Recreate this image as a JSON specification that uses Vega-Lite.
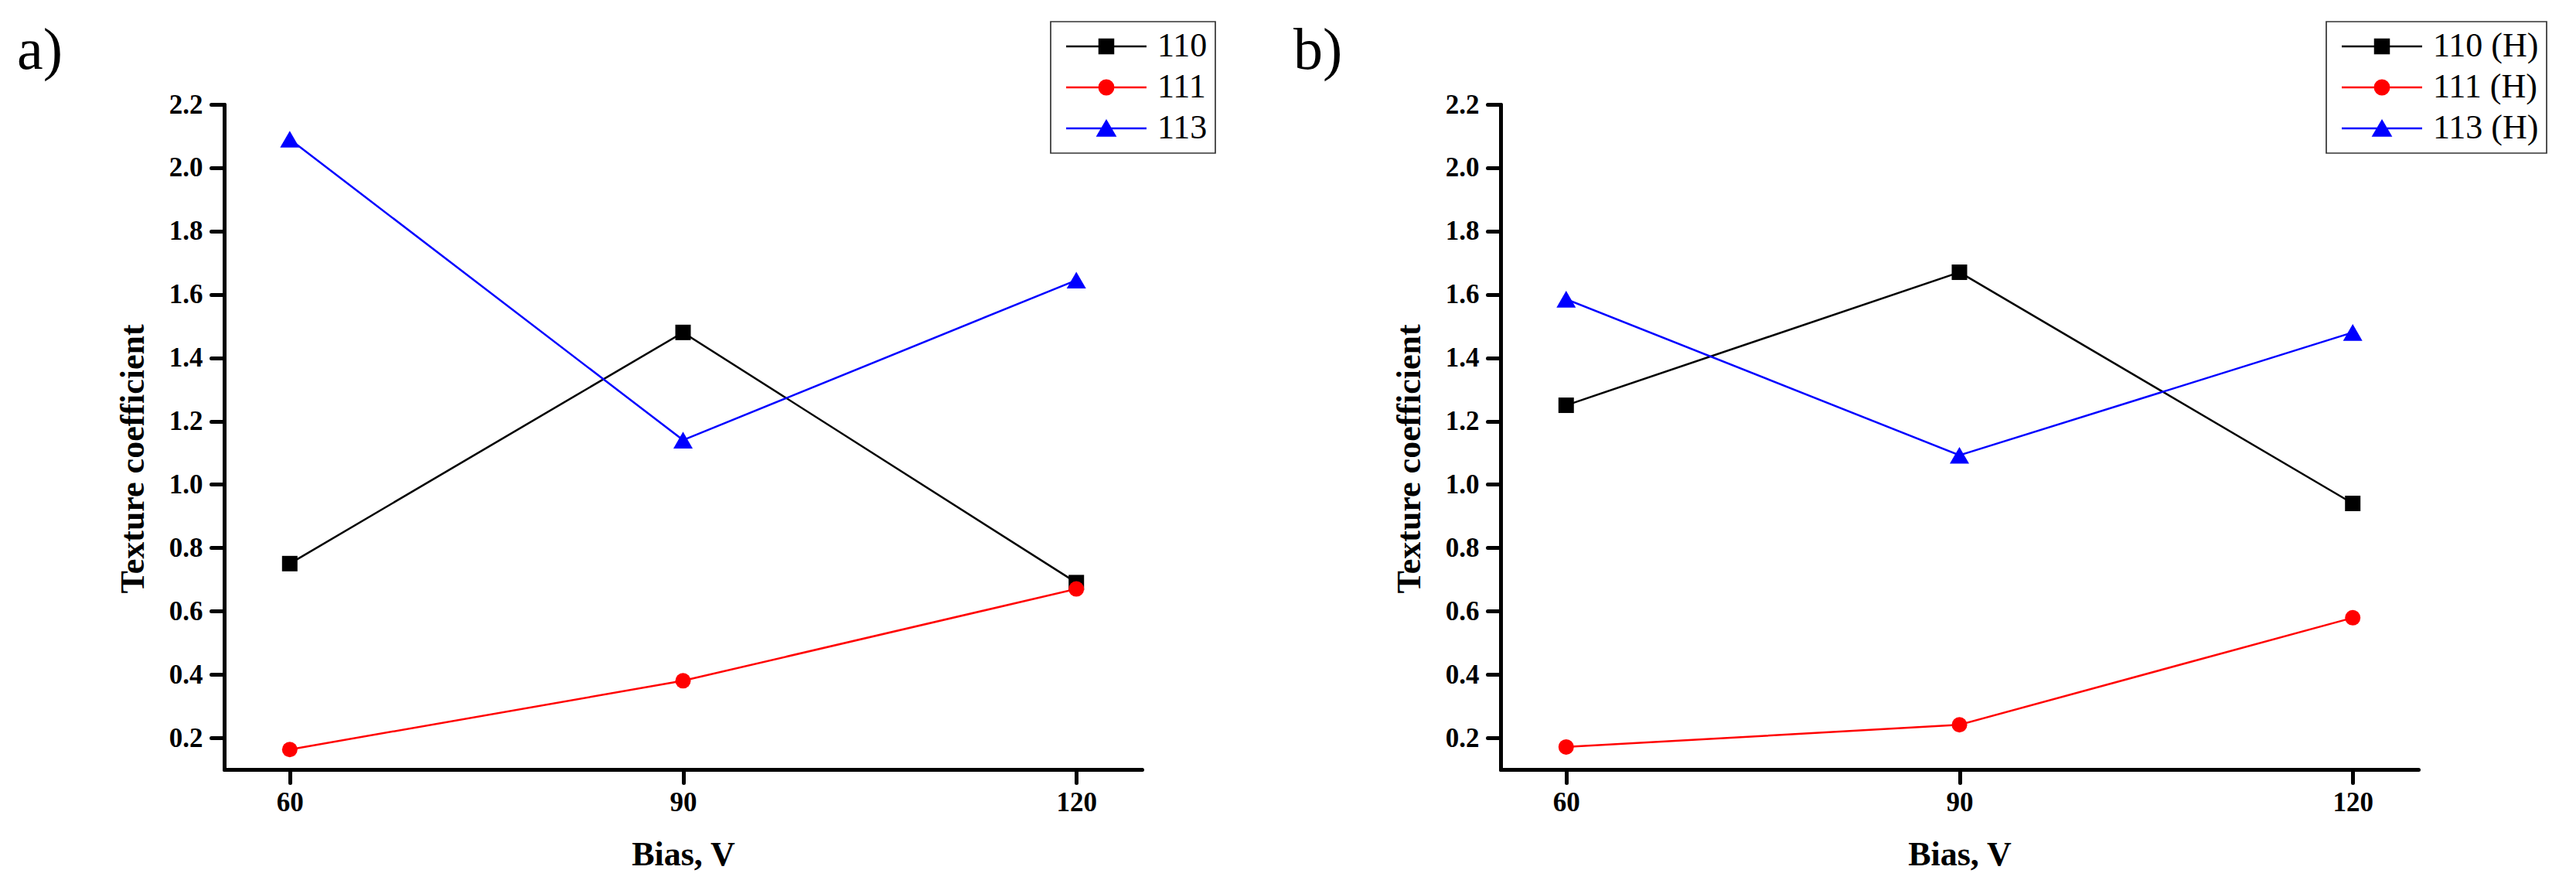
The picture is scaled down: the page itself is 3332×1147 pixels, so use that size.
{
  "$schema": "https://vega.github.io/schema/vega-lite/v6.json",
  "background": "white",
  "padding": {"left": 22, "top": 27, "right": 5, "bottom": 5},
  "config": {
    "view": {"stroke": null},
    "axis": {
      "grid": false,
      "domainColor": "black", "domainWidth": 5, "domainCap": "round",
      "tickColor": "black", "tickWidth": 5, "tickSize": 17, "tickCap": "round",
      "labelFont": "Liberation Serif", "labelFontWeight": "bold", "labelFontSize": 35, "labelColor": "black",
      "titleFont": "Liberation Serif", "titleFontWeight": "bold", "titleFontSize": 44, "titleColor": "black"
    },
    "legend": {
      "orient": "none", "title": null,
      "symbolSize": 1600, "symbolStrokeWidth": 2.5, "symbolOffset": 40, "labelOffset": 44,
      "padding": 10, "rowPadding": 9, "strokeColor": "#333333", "fillColor": "white",
      "labelFont": "Liberation Serif", "labelFontSize": 44, "labelFontWeight": "normal", "labelColor": "black", "labelLimit": 0
    },
    "concat": {"spacing": 100}
  },
  "resolve": {"scale": {"color": "independent"}, "legend": {"color": "independent"}},
  "hconcat": [
    {
      "width": 1187,
      "height": 860,
      "title": {"text": "a)", "anchor": "start", "frame": "group", "dx": -268, "dy": 158, "offset": 20, "font": "Liberation Serif", "fontSize": 76, "fontWeight": "normal", "color": "black", "baseline": "alphabetic"},
      "data": {"values": [
        {"bias": 60, "tc": 0.75, "series": "110"},
        {"bias": 90, "tc": 1.48, "series": "110"},
        {"bias": 120, "tc": 0.69, "series": "110"},
        {"bias": 60, "tc": 0.163, "series": "111"},
        {"bias": 90, "tc": 0.38, "series": "111"},
        {"bias": 120, "tc": 0.67, "series": "111"},
        {"bias": 60, "tc": 2.09, "series": "113"},
        {"bias": 90, "tc": 1.14, "series": "113"},
        {"bias": 120, "tc": 1.645, "series": "113"}
      ]},
      "encoding": {
        "x": {"field": "bias", "type": "quantitative", "scale": {"domain": [55, 125], "nice": false, "zero": false},
              "axis": {"title": "Bias, V", "values": [60, 90, 120], "labelPadding": 8, "titlePadding": 28}},
        "y": {"field": "tc", "type": "quantitative", "scale": {"domain": [0.1, 2.2], "nice": false, "zero": false},
              "axis": {"title": "Texture coefficient", "values": [0.2, 0.4, 0.6, 0.8, 1.0, 1.2, 1.4, 1.6, 1.8, 2.0, 2.2], "format": ".1f", "labelPadding": 11, "titlePadding": 24, "titleY": 458}},
        "color": {"field": "series", "type": "nominal", "scale": {"domain": ["110", "111", "113"], "range": ["#000000", "#ff0000", "#0000ff"]},
          "legend": {
            "legendX": 1069, "legendY": -107,
            "encode": {
              "symbols": {"update": {
                "shape": {"signal": "substring(datum.value,0,3)=='110' ? 'M-2.6,0H2.6M-0.45,-0.45H0.45V0.45H-0.45Z' : substring(datum.value,0,3)=='111' ? 'M-2.6,0H2.6M-0.46,0A0.46,0.46 0 1,1 0.46,0A0.46,0.46 0 1,1 -0.46,0Z' : 'M-2.6,0H2.6M0,-0.48L0.56,0.48L-0.56,0.48Z'"},
                "fill": {"signal": "substring(datum.value,0,3)=='110' ? '#000000' : substring(datum.value,0,3)=='111' ? '#ff0000' : '#0000ff'"},
                "stroke": {"signal": "substring(datum.value,0,3)=='110' ? '#000000' : substring(datum.value,0,3)=='111' ? '#ff0000' : '#0000ff'"},
                "size": {"value": 1600},
                "strokeWidth": {"value": 2.5},
                "opacity": {"value": 1}
              }},
              "legend": {"update": {"strokeWidth": {"value": 1.7}}}
            }
          }}
      },
      "layer": [
        {"mark": {"type": "line", "strokeWidth": 2.5}},
        {"mark": {"type": "point", "filled": true, "opacity": 1},
         "encoding": {
           "shape": {"condition": [{"test": "datum.series == '110'", "value": "square"}, {"test": "datum.series == '111'", "value": "circle"}], "value": "triangle-up"},
           "size": {"condition": {"test": "datum.series == '113'", "value": 625}, "value": 400}
         }}
      ]
    },
    {
      "width": 1187,
      "height": 860,
      "title": {"text": "b)", "anchor": "start", "frame": "group", "dx": -268, "dy": 158, "offset": 20, "font": "Liberation Serif", "fontSize": 76, "fontWeight": "normal", "color": "black", "baseline": "alphabetic"},
      "data": {"values": [
        {"bias": 60, "tc": 1.25, "series": "110 (H)"},
        {"bias": 90, "tc": 1.67, "series": "110 (H)"},
        {"bias": 120, "tc": 0.94, "series": "110 (H)"},
        {"bias": 60, "tc": 0.171, "series": "111 (H)"},
        {"bias": 90, "tc": 0.241, "series": "111 (H)"},
        {"bias": 120, "tc": 0.579, "series": "111 (H)"},
        {"bias": 60, "tc": 1.585, "series": "113 (H)"},
        {"bias": 90, "tc": 1.092, "series": "113 (H)"},
        {"bias": 120, "tc": 1.48, "series": "113 (H)"}
      ]},
      "encoding": {
        "x": {"field": "bias", "type": "quantitative", "scale": {"domain": [55, 125], "nice": false, "zero": false},
              "axis": {"title": "Bias, V", "values": [60, 90, 120], "labelPadding": 8, "titlePadding": 28}},
        "y": {"field": "tc", "type": "quantitative", "scale": {"domain": [0.1, 2.2], "nice": false, "zero": false},
              "axis": {"title": "Texture coefficient", "values": [0.2, 0.4, 0.6, 0.8, 1.0, 1.2, 1.4, 1.6, 1.8, 2.0, 2.2], "format": ".1f", "labelPadding": 11, "titlePadding": 24, "titleY": 458}},
        "color": {"field": "series", "type": "nominal", "scale": {"domain": ["110 (H)", "111 (H)", "113 (H)"], "range": ["#000000", "#ff0000", "#0000ff"]},
          "legend": {
            "legendX": 1068, "legendY": -107,
            "encode": {
              "symbols": {"update": {
                "shape": {"signal": "substring(datum.value,0,3)=='110' ? 'M-2.6,0H2.6M-0.45,-0.45H0.45V0.45H-0.45Z' : substring(datum.value,0,3)=='111' ? 'M-2.6,0H2.6M-0.46,0A0.46,0.46 0 1,1 0.46,0A0.46,0.46 0 1,1 -0.46,0Z' : 'M-2.6,0H2.6M0,-0.48L0.56,0.48L-0.56,0.48Z'"},
                "fill": {"signal": "substring(datum.value,0,3)=='110' ? '#000000' : substring(datum.value,0,3)=='111' ? '#ff0000' : '#0000ff'"},
                "stroke": {"signal": "substring(datum.value,0,3)=='110' ? '#000000' : substring(datum.value,0,3)=='111' ? '#ff0000' : '#0000ff'"},
                "size": {"value": 1600},
                "strokeWidth": {"value": 2.5},
                "opacity": {"value": 1}
              }},
              "legend": {"update": {"strokeWidth": {"value": 1.7}}}
            }
          }}
      },
      "layer": [
        {"mark": {"type": "line", "strokeWidth": 2.5}},
        {"mark": {"type": "point", "filled": true, "opacity": 1},
         "encoding": {
           "shape": {"condition": [{"test": "datum.series == '110 (H)'", "value": "square"}, {"test": "datum.series == '111 (H)'", "value": "circle"}], "value": "triangle-up"},
           "size": {"condition": {"test": "datum.series == '113 (H)'", "value": 625}, "value": 400}
         }}
      ]
    }
  ]
}
